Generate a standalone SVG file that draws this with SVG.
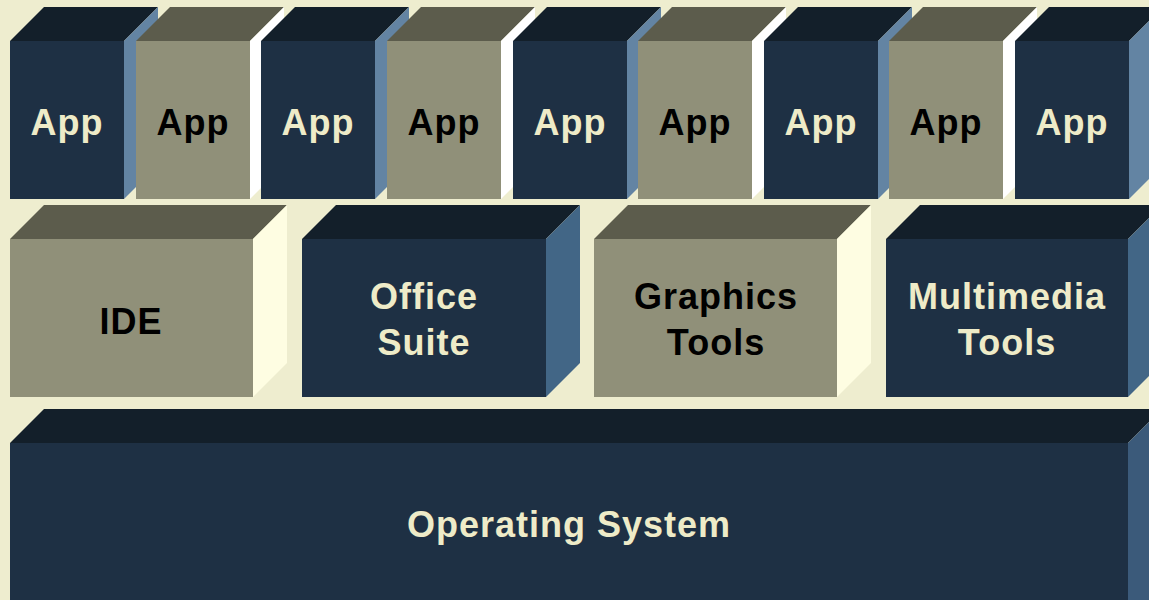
<svg xmlns="http://www.w3.org/2000/svg" width="1149" height="600" viewBox="0 0 1149 600">
<style>
.bg{fill:#EEEDCF}
.dF{fill:#1E3044}.dT{fill:#131F2A}
.gF{fill:#909079}.gT{fill:#5C5C4C}
.sA{fill:#6384A3}.sW{fill:#FFFFFF}.sB{fill:#426686}.sC{fill:#FEFDE2}.sO{fill:#3B5A7A}
text{font-family:"Liberation Sans",Arial,sans-serif;font-weight:bold;font-size:36px;letter-spacing:1px;text-anchor:middle}
.tl{fill:#EEEBC8}.tk{fill:#000}
</style>
<defs>
<g id="appD">
<polygon class="dT" points="0,34 34,0 148,0 114,34"/>
<polygon class="sA" points="114,34 148,0 148,158 114,192"/>
<rect class="dF" x="0" y="34" width="114" height="158"/>
<text class="tl" x="57" y="128">App</text>
</g>
<g id="appG">
<polygon class="gT" points="0,34 34,0 148,0 114,34"/>
<polygon class="sW" points="114,34 148,0 148,158 114,192"/>
<rect class="gF" x="0" y="34" width="114" height="158"/>
<text class="tk" x="57" y="128">App</text>
</g>
</defs>
<rect class="bg" x="0" y="0" width="1149" height="600"/>
<g id="app1"><use href="#appD" x="10" y="7"/></g>
<g id="app2"><use href="#appG" x="136" y="7"/></g>
<g id="app3"><use href="#appD" x="261" y="7"/></g>
<g id="app4"><use href="#appG" x="387" y="7"/></g>
<g id="app5"><use href="#appD" x="513" y="7"/></g>
<g id="app6"><use href="#appG" x="638" y="7"/></g>
<g id="app7"><use href="#appD" x="764" y="7"/></g>
<g id="app8"><use href="#appG" x="889" y="7"/></g>
<g id="app9"><use href="#appD" x="1015" y="7"/></g>

<g id="ide">
<polygon class="gT" points="10,239 44,205 287,205 253,239"/>
<polygon class="sC" points="253,239 287,205 287,363 253,397"/>
<rect class="gF" x="10" y="239" width="243" height="158"/>
<text class="tk" x="131" y="334">IDE</text>
</g>
<g id="office">
<polygon class="dT" points="302,239 336,205 580,205 546,239"/>
<polygon class="sB" points="546,239 580,205 580,363 546,397"/>
<rect class="dF" x="302" y="239" width="244" height="158"/>
<text class="tl" x="424" y="309">Office</text>
<text class="tl" x="424" y="355">Suite</text>
</g>
<g id="graphics">
<polygon class="gT" points="594,239 628,205 871,205 837,239"/>
<polygon class="sC" points="837,239 871,205 871,363 837,397"/>
<rect class="gF" x="594" y="239" width="243" height="158"/>
<text class="tk" x="716" y="309">Graphics</text>
<text class="tk" x="716" y="355">Tools</text>
</g>
<g id="multimedia">
<polygon class="dT" points="886,239 920,205 1162,205 1128,239"/>
<polygon class="sB" points="1128,239 1162,205 1162,363 1128,397"/>
<rect class="dF" x="886" y="239" width="242" height="158"/>
<text class="tl" x="1007" y="309">Multimedia</text>
<text class="tl" x="1007" y="355">Tools</text>
</g>
<g id="os">
<polygon class="dT" points="10,443 44,409 1162,409 1128,443"/>
<polygon class="sO" points="1128,443 1162,409 1162,600 1128,634"/>
<rect class="dF" x="10" y="443" width="1118" height="170"/>
<text class="tl" x="569" y="537">Operating System</text>
</g>
<g id="connectors"/>
</svg>
